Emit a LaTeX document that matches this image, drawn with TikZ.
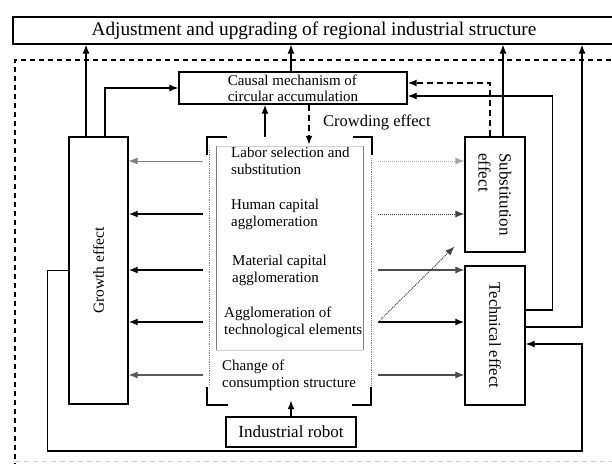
\documentclass[tikz,border=0pt]{standalone}
\usepackage{fontspec}
\setmainfont{Liberation Serif}
\usetikzlibrary{arrows.meta}
\tikzset{
  box/.style={draw, line width=1.2pt, inner sep=0pt},
  item/.style={anchor=west, align=left, inner sep=0pt, font=\fontsize{15}{17}\selectfont},
  arr/.style={-{Latex[length=9pt,width=7pt]}, line width=1.2pt},
  arrthick/.style={arr, line width=1.7pt},
  arrlight/.style={arr, line width=0.8pt, gray},
  arrdot/.style={arr, line width=1pt, densely dotted, gray},
  dsh/.style={line width=1.7pt, dash pattern=on 6pt off 4pt}
}
\begin{document}
\begin{tikzpicture}[x=1pt,y=-1pt]
\useasboundingbox (0,0) rectangle (612,463);
\clip (0,0) rectangle (612,463);

\node (title) at (314,30.5) [box, minimum width=602pt, minimum height=27pt, font=\fontsize{19.3}{21}\selectfont] {Adjustment and upgrading of regional industrial structure};
\draw[line width=1.1pt, dash pattern=on 5pt off 4pt] (620,60) -- (15,60) -- (15,470);
\draw[line width=0.8pt, dash pattern=on 5pt off 4pt, gray!40] (15,461.5) -- (620,461.5);

\node (causal) at (293,88) [box, minimum width=228pt, minimum height=32pt, align=left, font=\fontsize{15}{16}\selectfont] {Causal mechanism of\\circular accumulation};
\node (growth) at (98.5,270.5) [box, minimum width=59pt, minimum height=267pt, label={[rotate=90, font=\fontsize{15.5}{17}\selectfont]center:Growth effect}] {};
\node (subst) at (495,194.5) [box, minimum width=60pt, minimum height=115pt, label={[rotate=-90, align=left, font=\fontsize{17}{21}\selectfont]center:Substitution\\effect}] {};
\node (tech) at (495,335.5) [box, minimum width=60pt, minimum height=139pt, label={[rotate=-90, font=\fontsize{16.5}{18}\selectfont]center:Technical effect}] {};
\node (robot) at (291,432) [box, minimum width=130pt, minimum height=30pt, font=\fontsize{17}{19}\selectfont] {Industrial robot};
\node (mid) at (290.5,271) [minimum width=175pt, minimum height=268pt, inner sep=0pt] {};
\node (crowd) at (323,122) [anchor=west, inner sep=0pt, font=\fontsize{16.5}{18}\selectfont] {Crowding effect};

\node (labor) at (231,161) [item] {Labor selection and\\substitution};
\node (human) at (231,214) [item] {Human capital\\agglomeration};
\node (material) at (232,270) [item] {Material capital\\agglomeration};
\node (agglo) at (224,322) [item] {Agglomeration of\\technological elements};
\node (change) at (222,375) [item] {Change of\\consumption structure};

\draw[line width=1.7pt] (227,137) -- (207,137) -- (207,155)
  (353,137) -- (372,137) -- (372,155)
  (207,387) -- (207,405) -- (228,405)
  (352,405) -- (371,405) -- (371,387);
\draw[densely dotted, gray, line width=0.8pt] (209,150) -- (209,385) (371,158) -- (371,385);
\draw[gray!35, line width=0.6pt] (216,146) -- (363,146) (216,350) -- (363,350);
\draw[gray, line width=1pt] (216,146) -- (216,350) (363,146) -- (363,350);

\draw[arr] ([xshift=-12.5pt]growth.north) -- ([xshift=-12.5pt]growth.north |- title.south);
\draw[arr] ([xshift=6.5pt]growth.north) |- (causal.west);
\draw[arr] ([xshift=-2pt]causal.north) -- ([xshift=-2pt]causal.north |- title.south);
\draw[arrthick] ([xshift=-25.5pt]mid.north) -- ([xshift=-25.5pt]mid.north |- causal.south);
\draw[dsh, -{Latex[length=9pt,width=7pt]}] ([xshift=16pt]causal.south) -- ([xshift=16pt,yshift=-8pt]causal.south |- mid.north);
\draw[dsh, -{Latex[length=9pt,width=7pt]}] ([xshift=-5pt]subst.north) |- ([yshift=5pt]causal.east);
\draw[arr] ([xshift=8pt]subst.north) -- ([xshift=8pt]subst.north |- title.south);
\draw[arr] ([yshift=25.5pt]tech.east) -- ++(27,0) |- ([yshift=-8pt]causal.east);
\draw[arr] ([yshift=8.5pt]tech.east) -| ([xshift=268pt]title.south);
\draw[arr] (growth.west) -- ++(-21,0) -- ++(0,180.5) -- (582,451) |- ([yshift=-8.5pt]tech.east);
\draw[arrthick] (robot.north) -- ([yshift=5pt]robot.north |- mid.south);

\draw[arrlight] (labor.west -| mid.west) -- (labor.west -| growth.east);
\draw[arrthick] (human.west -| mid.west) -- (human.west -| growth.east);
\draw[arrthick] (material.west -| mid.west) -- (material.west -| growth.east);
\draw[arrthick] (agglo.west -| mid.west) -- (agglo.west -| growth.east);
\draw[arr, gray!70!black] (change.west -| mid.west) -- (change.west -| growth.east);

\draw[arrdot, gray!70] (labor.east -| mid.east) -- (labor.east -| subst.west);
\draw[arrdot, gray!50!black] (human.east -| mid.east) -- (human.east -| subst.west);
\draw[arr, gray!60!black] (material.east -| mid.east) -- (material.east -| tech.west);
\draw[arrthick] (agglo.east -| mid.east) -- (agglo.east -| tech.west);
\draw[arr, gray!60!black] (change.east -| mid.east) -- (change.east -| tech.west);
\draw[arrdot, gray!50!black] (agglo.east -| mid.east) -- ([xshift=-10pt,yshift=6pt]subst.south west);
\end{tikzpicture}
\end{document}
